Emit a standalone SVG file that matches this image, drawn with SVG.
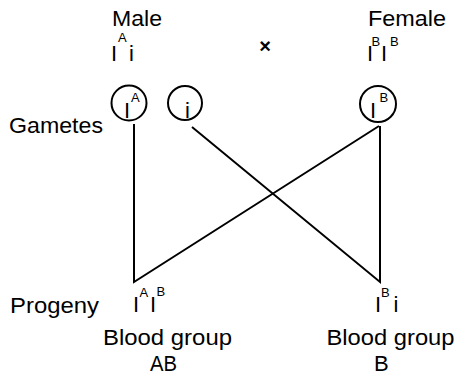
<svg xmlns="http://www.w3.org/2000/svg" width="457" height="376" viewBox="0 0 457 376">
<style>
text{font-family:"Liberation Sans",Arial,sans-serif;fill:#000}
.t{font-size:22px}
.g{font-size:22px}
.s{font-size:13px}
.c{fill:none;stroke:#000;stroke-width:2}
.ln{stroke:#000;stroke-width:2;fill:none}
</style>
<rect width="457" height="376" fill="#fff"/>
<g id="labels">
<text class="t" x="112" y="26" textLength="50" lengthAdjust="spacingAndGlyphs">Male</text>
<text class="t" x="368" y="26" textLength="78" lengthAdjust="spacingAndGlyphs">Female</text>
<text class="t" x="9" y="133" textLength="94" lengthAdjust="spacingAndGlyphs">Gametes</text>
<text class="t" x="10" y="313" textLength="89" lengthAdjust="spacingAndGlyphs">Progeny</text>
<text x="265" y="53" font-size="20" text-anchor="middle" font-weight="bold">×</text>
</g>
<g id="male">
<text class="g" x="111" y="61">I<tspan class="s" x="118" y="42">A</tspan><tspan x="129" y="61">i</tspan></text>
</g>
<g id="female">
<text class="g" x="367" y="61">I<tspan class="s" x="371.5" y="46">B</tspan><tspan x="381" y="61">I</tspan><tspan class="s" x="390" y="46">B</tspan></text>
</g>
<g id="gamete-IA">
<circle class="c" cx="129" cy="103" r="17.5"/>
<text class="g" x="124" y="118">I<tspan class="s" x="131" y="102">A</tspan></text>
</g>
<g id="gamete-i">
<circle class="c" cx="185" cy="103" r="17"/>
<text class="g" x="185" y="118">i</text>
</g>
<g id="gamete-IB">
<circle class="c" cx="378" cy="104" r="18"/>
<text class="g" x="370" y="118">I<tspan class="s" x="379.5" y="102">B</tspan></text>
</g>
<g id="connectors">
<polyline class="ln" points="134,124 134,282 379,126"/>
<polyline class="ln" points="192,127 380,282 380,126"/>
</g>
<g id="progeny-AB">
<text class="g" x="133" y="312">I<tspan class="s" x="139.5" y="297">A</tspan><tspan x="150" y="312">I</tspan><tspan class="s" x="156.5" y="296">B</tspan></text>
<text class="t" x="103" y="345" textLength="129" lengthAdjust="spacingAndGlyphs">Blood group</text>
<text class="t" x="150" y="371" textLength="27" lengthAdjust="spacingAndGlyphs">AB</text>
</g>
<g id="progeny-B">
<text class="g" x="375" y="312">I<tspan class="s" x="381" y="297">B</tspan><tspan x="393.5" y="312">i</tspan></text>
<text class="t" x="326.5" y="345" textLength="128" lengthAdjust="spacingAndGlyphs">Blood group</text>
<text class="t" x="374" y="371">B</text>
</g>
</svg>
